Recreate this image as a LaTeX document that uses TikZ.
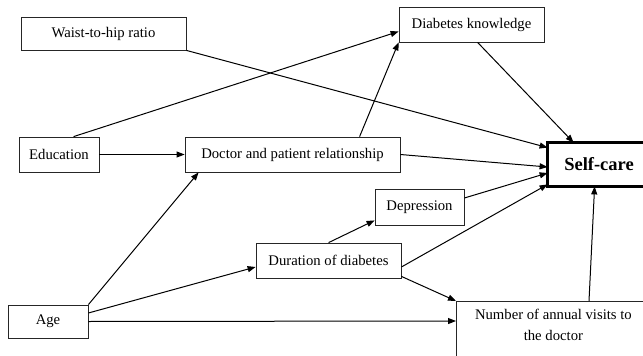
\documentclass[tikz,border=0pt]{standalone}
\usepackage{fontspec}
\setmainfont{Liberation Serif}
\usetikzlibrary{arrows.meta}
\begin{document}
\begin{tikzpicture}[x=1pt,y=-1pt,
  box/.style={draw=black!85, line width=0.8pt, inner sep=0pt, font=\fontsize{14.7}{21}\selectfont},
  arr/.style={draw=black, line width=1pt, -{Triangle[length=8pt,width=6pt]}}]
\useasboundingbox (0,0) rectangle (643,356);
\clip (0,0) rectangle (643,356);
\fill[white] (0,0) rectangle (643,356);
\node[box, minimum width=165pt, minimum height=33pt] (waist) at (103.5,33.5) {Waist-to-hip ratio};
\node[box, minimum width=80pt, minimum height=35pt] (edu) at (59,154.5) {Education};
\node[box, minimum width=215pt, minimum height=35pt] (doc) at (292.5,154.5) {Doctor and patient relationship};
\node[box, minimum width=145pt, minimum height=35pt] (know) at (471.5,24.5) {Diabetes knowledge};
\node[box, draw=none, minimum width=102pt, minimum height=43pt, font=\fontsize{18.5}{22}\selectfont\bfseries] (self) at (599,164.5) {Self-care};
\draw[line width=3pt] ([xshift=40pt]self.north east) -- (self.north west) -- (self.south west) -- ([xshift=40pt]self.south east);
\node[box, minimum width=89pt, minimum height=36pt] (dep) at (419.5,207) {Depression};
\node[box, minimum width=145pt, minimum height=35pt] (dur) at (328.5,260.5) {Duration of diabetes};
\node[box, minimum width=80pt, minimum height=33pt] (age) at (48,321.5) {Age};
\node[box, anchor=north west, minimum width=194pt, minimum height=80pt,
  label={[align=center, anchor=north, yshift=-5pt, font=\fontsize{14.7}{21}\selectfont]north:Number of annual visits to\\the doctor}] (num) at (456,301) {};

\draw[arr] (waist.south east) -- ([yshift=-5pt]self.north west);
\draw[arr] ([xshift=55pt]edu.north west) -- ([yshift=-7pt]know.west);
\draw[arr] (edu.east) -- (doc.west);
\draw[arr] ([xshift=175pt]doc.north west) -- (know.south west);
\draw[arr] ([xshift=79pt]know.south west) -- ([xshift=26pt]self.north west);
\draw[arr] (doc.east) -- ([yshift=-2.5pt]self.west);
\draw[arr] ([yshift=9pt]dep.east) -- ([yshift=-8.5pt]self.west);
\draw[arr] ([yshift=-6.5pt]dur.east) -- ([yshift=2pt]self.south west);
\draw[arr] ([xshift=73pt]dur.north west) -- ([yshift=5pt]dep.south west);
\draw[arr] ([yshift=2pt]dur.south east) -- (num.north west);
\draw[arr] ([xshift=133pt]num.north west) -- ([xshift=47pt]self.south west);
\draw[arr] (age.north east) -- ([xshift=14pt]doc.south west);
\draw[arr] ([yshift=8.5pt]age.east) -- ([yshift=-6.5pt]dur.west);
\draw[arr] (age.east) -- ([yshift=-20pt]num.north west);
\end{tikzpicture}
\end{document}
